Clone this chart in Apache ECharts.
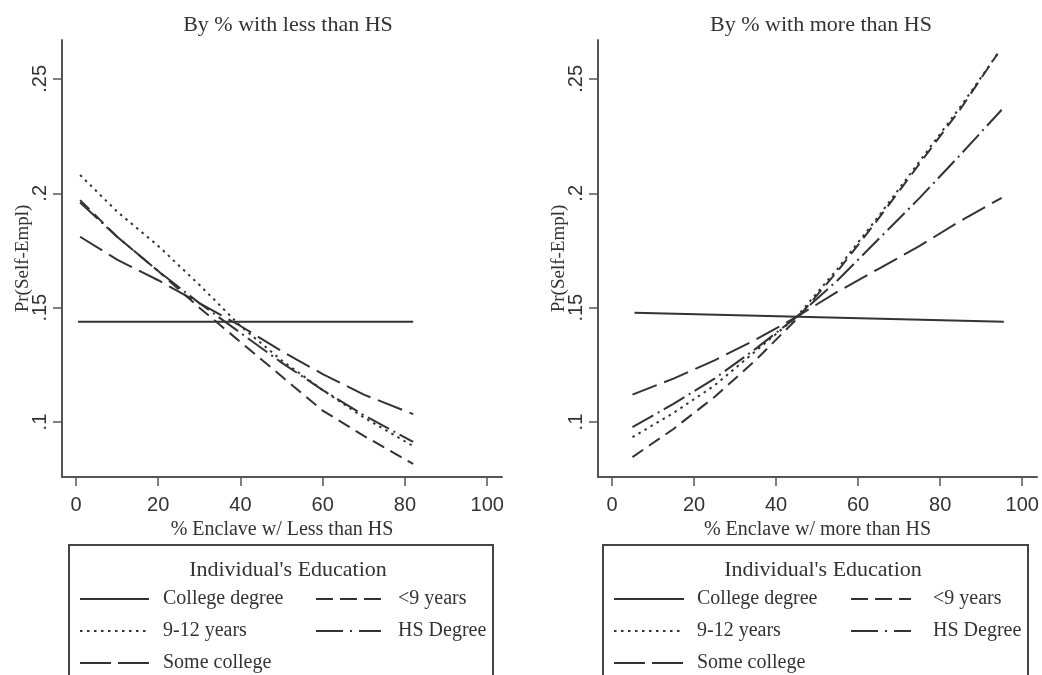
<!DOCTYPE html>
<html lang="en">
<head>
    <meta charset="UTF-8">
    <title>Pr(Self-Empl) by enclave education</title>
    <style>
        html, body { margin: 0; padding: 0; background: #fff; }
        #main { width: 1042px; height: 675px; }
    </style>
    <script src="https://cdn.jsdelivr.net/npm/echarts@6/dist/echarts.min.js"></script>
</head>
<body>

    <div id="main"></div>

    <script>
        // values
        const xTicks = [0, 20, 40, 60, 80, 100];
        const yTicks = [0.1, 0.15, 0.2, 0.25];

        // left panel: % enclave with less than HS
        const leftX = [1, 10, 20, 30, 40, 50, 60, 70, 82];
        const leftCollegeX = [0.5, 82];
        const leftCollege = [0.1439, 0.1439];
        const leftLess9 = [0.197, 0.181, 0.166, 0.150, 0.135, 0.120, 0.105, 0.094, 0.0817];
        const left912 = [0.208, 0.192, 0.177, 0.160, 0.142, 0.127, 0.114, 0.102, 0.0895];
        const leftHS = [0.196, 0.181, 0.166, 0.152, 0.139, 0.126, 0.114, 0.103, 0.0913];
        const leftSome = [0.181, 0.171, 0.162, 0.152, 0.142, 0.131, 0.121, 0.112, 0.1035];

        // right panel: % enclave with more than HS
        const rightX = [5, 15, 25, 35, 45, 55, 65, 75, 85, 94];
        const rightX2 = [5, 15, 25, 35, 45, 55, 65, 75, 85, 95];
        const rightCollegeX = [5.5, 95.5];
        const rightCollege = [0.1478, 0.1439];
        const rightLess9 = [0.0847, 0.097, 0.111, 0.127, 0.145, 0.166, 0.189, 0.213, 0.237, 0.261];
        const right912 = [0.0934, 0.104, 0.116, 0.131, 0.146, 0.167, 0.190, 0.214, 0.238, 0.261];
        const rightHS = [0.0978, 0.108, 0.119, 0.132, 0.146, 0.162, 0.180, 0.198, 0.217, 0.2365];
        const rightSome = [0.112, 0.119, 0.127, 0.136, 0.146, 0.157, 0.167, 0.177, 0.188, 0.198];

        const names = ['College degree', '<9 years', '9-12 years', 'HS Degree', 'Some college'];
        const dashes = ['solid', [13, 7], [2.5, 4.5], [24, 5, 2, 5], [26, 8]];
        // the legend keys use longer strokes than the plot
        const keyDashes = ['solid', [17, 7], [2.5, 4.5], [27, 7, 2, 7], [31, 7]];

        const serif = 'Liberation Serif';
        const sans = 'Liberation Sans';
        const ink = '#333';

        function pairs(xs, ys) {
            return xs.map(function (x, i) { return [x, ys[i]]; });
        }

        function xAxis(idx, name) {
            return {
                type: 'value', gridIndex: idx, min: -3.4, max: 103.6,
                name: name, nameLocation: 'middle', nameGap: 38,
                nameTextStyle: { fontFamily: serif, fontSize: 20, color: ink },
                axisLine: { onZero: false, lineStyle: { color: '#555', width: 2 } },
                axisTick: { customValues: xTicks, length: 9, lineStyle: { color: '#555', width: 1.5 } },
                axisLabel: { customValues: xTicks, margin: 18, fontFamily: sans, fontSize: 20, color: ink },
                splitLine: { show: false }
            };
        }

        function yAxis(idx) {
            return {
                type: 'value', gridIndex: idx, min: 0.076, max: 0.267,
                name: 'Pr(Self-Empl)', nameLocation: 'middle', nameGap: 29, nameRotate: 90,
                nameMoveOverlap: false,
                nameTextStyle: { fontFamily: serif, fontSize: 19, color: ink },
                axisLine: { onZero: false, lineStyle: { color: '#555', width: 2 } },
                axisTick: { customValues: yTicks, length: 9, lineStyle: { color: '#555', width: 1.5 } },
                axisLabel: {
                    customValues: yTicks, rotate: 90, margin: 12,
                    fontFamily: sans, fontSize: 20, color: ink,
                    formatter: function (v) { return String(v).replace(/^0/, ''); }
                },
                splitLine: { show: false }
            };
        }

        function line(idx, k, data) {
            return {
                name: names[k], type: 'line', xAxisIndex: idx, yAxisIndex: idx,
                data: data, symbol: 'none', silent: true, animation: false,
                lineStyle: { color: ink, width: 2, type: dashes[k] },
                itemStyle: { color: ink }
            };
        }

        function legend(left, keys, width, gap) {
            return {
                orient: 'vertical', left: left, top: 589, padding: 0,
                data: keys.map(function (k) {
                    return { name: names[k], lineStyle: { type: keyDashes[k] } };
                }),
                itemWidth: width, itemHeight: 18, itemGap: 12, selectedMode: false,
                itemStyle: { color: 'transparent', borderWidth: 0 },
                textStyle: { fontFamily: serif, fontSize: 20, lineHeight: 20, color: ink, padding: [0, 0, 0, gap] }
            };
        }

        let chartDom = document.getElementById('main');
        let myChart = echarts.init(chartDom);
        let option = {
            backgroundColor: '#fff',
            animation: false,
            title: [
                { text: 'By % with less than HS', left: 283, top: 9, textAlign: 'center',
                  textStyle: { fontFamily: serif, fontSize: 22, fontWeight: 'normal', color: ink } },
                { text: 'By % with more than HS', left: 816, top: 9, textAlign: 'center',
                  textStyle: { fontFamily: serif, fontSize: 22, fontWeight: 'normal', color: ink } },
                { text: "Individual's Education", left: 283, top: 554, textAlign: 'center',
                  textStyle: { fontFamily: serif, fontSize: 22, fontWeight: 'normal', color: ink } },
                { text: "Individual's Education", left: 818, top: 554, textAlign: 'center',
                  textStyle: { fontFamily: serif, fontSize: 22, fontWeight: 'normal', color: ink } }
            ],
            grid: [
                { left: 62, top: 40, width: 440, height: 437 },
                { left: 598, top: 40, width: 439, height: 437 }
            ],
            xAxis: [xAxis(0, '% Enclave w/ Less than HS'), xAxis(1, '% Enclave w/ more than HS')],
            yAxis: [yAxis(0), yAxis(1)],
            legend: [
                legend(79, [0, 2, 4], 69, 9),
                legend(315, [1, 3], 65, 12),
                legend(613, [0, 2, 4], 70, 8),
                legend(850, [1, 3], 60, 17)
            ],
            graphic: [
                { type: 'rect', shape: { x: 69, y: 545, width: 424, height: 160 },
                  style: { fill: 'none', stroke: '#444', lineWidth: 2 }, silent: true },
                { type: 'rect', shape: { x: 603, y: 545, width: 425, height: 160 },
                  style: { fill: 'none', stroke: '#444', lineWidth: 2 }, silent: true }
            ],
            series: [
                line(0, 0, pairs(leftCollegeX, leftCollege)),
                line(0, 1, pairs(leftX, leftLess9)),
                line(0, 2, pairs(leftX, left912)),
                line(0, 3, pairs(leftX, leftHS)),
                line(0, 4, pairs(leftX, leftSome)),
                line(1, 0, pairs(rightCollegeX, rightCollege)),
                line(1, 1, pairs(rightX, rightLess9)),
                line(1, 2, pairs(rightX, right912)),
                line(1, 3, pairs(rightX2, rightHS)),
                line(1, 4, pairs(rightX2, rightSome))
            ]
        };

        option && myChart.setOption(option);
    </script>

</body>
</html>
